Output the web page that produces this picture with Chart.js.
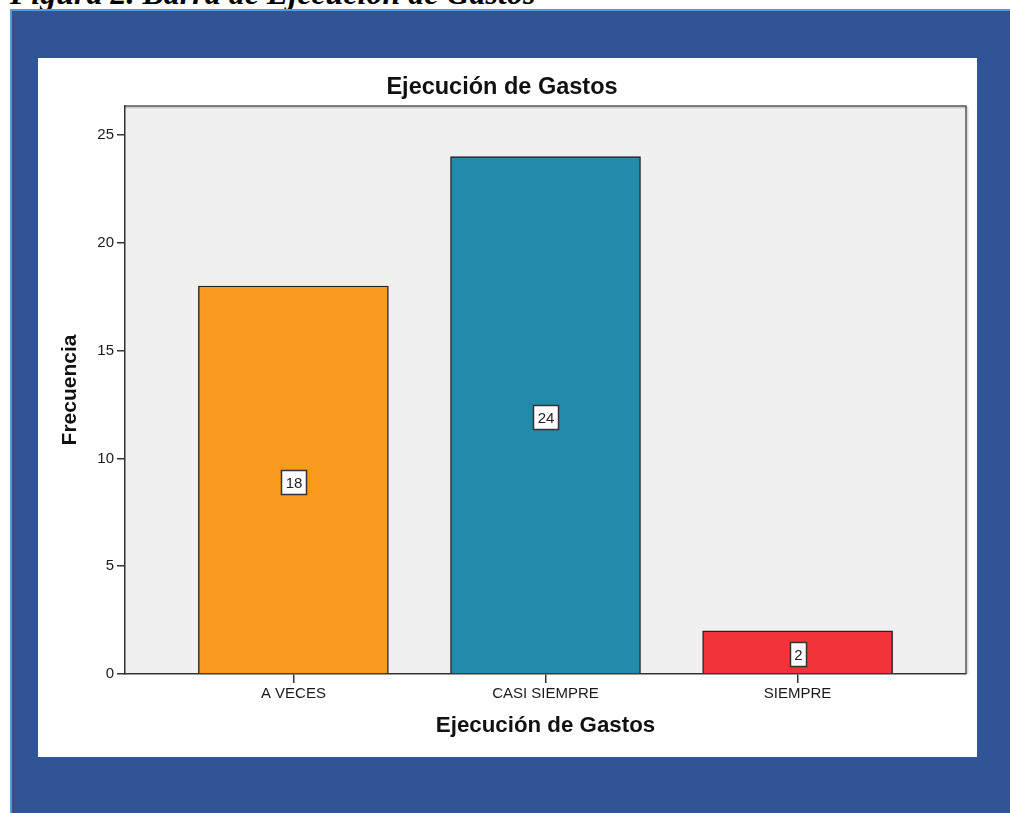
<!DOCTYPE html>
<html>
<head>
<meta charset="utf-8">
<title>Ejecución de Gastos</title>
<script src="https://cdn.jsdelivr.net/npm/chart.js@4.4.1/dist/chart.umd.min.js"></script>
<style>
  html, body { margin: 0; padding: 0; background: #fff; width: 1010px; height: 813px; overflow: hidden; position: relative; }
  #caption { position: absolute; left: 10px; top: -23px; font: italic bold 32px "Liberation Serif", "Times New Roman", serif; line-height: 32px; color: #000; white-space: nowrap; }
  #frame { position: absolute; left: 10px; top: 9px; width: 998px; height: 802px; background: #2F5597; border-left: 2px solid #5B9BD5; border-top: 2px solid #5B9BD5; }
  #panel { position: absolute; left: 38px; top: 58px; width: 939px; height: 699px; background: #fff; }
  canvas { display: block; }
</style>
</head>
<body>
<div id="caption">Figura 2. Barra de Ejecución de Gastos</div>
<div id="frame"></div>
<div id="panel"><canvas id="chart" width="939" height="699"></canvas></div>
<script>
// Frecuencias por categoría
const categories = ['A VECES', 'CASI SIEMPRE', 'SIEMPRE'];
const frecuencias = [18, 24, 2];
const barColors = ['#F9991E', '#238AAB', '#F2333A'];
const yTicks = [0, 5, 10, 15, 20, 25];

const FONT = '"Liberation Sans", Arial, Helvetica, sans-serif';
Chart.defaults.font.family = FONT;

// Grey plot background plus the top/right frame lines
const plotFrame = {
  id: 'plotFrame',
  beforeDraw(chart) {
    const { ctx, chartArea: a } = chart;
    ctx.save();
    ctx.fillStyle = '#F0F0F0';
    ctx.fillRect(a.left, a.top, a.right - a.left, a.bottom - a.top);
    ctx.restore();
  },
  afterDraw(chart) {
    const { ctx, chartArea: a } = chart;
    ctx.save();
    ctx.strokeStyle = 'rgba(0,0,0,0.15)';
    ctx.lineWidth = 2;
    ctx.beginPath();
    ctx.moveTo(a.left, a.top + 1.5);
    ctx.lineTo(a.right + 1.5, a.top + 1.5);
    ctx.lineTo(a.right + 1.5, a.bottom);
    ctx.stroke();
    ctx.strokeStyle = '#555';
    ctx.lineWidth = 1.5;
    ctx.beginPath();
    ctx.moveTo(a.left, a.top);
    ctx.lineTo(a.right, a.top);
    ctx.lineTo(a.right, a.bottom);
    ctx.stroke();
    ctx.restore();
  }
};

// Boxed value labels in the middle of each bar
const valueBoxes = {
  id: 'valueBoxes',
  afterDatasetsDraw(chart) {
    const { ctx } = chart;
    const meta = chart.getDatasetMeta(0);
    ctx.save();
    ctx.font = '15px ' + FONT;
    meta.data.forEach((bar, i) => {
      const text = String(frecuencias[i]);
      const cx = bar.x;
      const cy = (bar.y + bar.base) / 2 + 2;
      const w = Math.round(ctx.measureText(text).width + 8);
      const h = 24;
      const x0 = Math.round(cx - w / 2) + 0.5;
      const y0 = Math.round(cy - h / 2) + 0.5;
      ctx.fillStyle = '#fff';
      ctx.fillRect(x0, y0, w, h);
      ctx.strokeStyle = '#333';
      ctx.lineWidth = 1.5;
      ctx.strokeRect(x0, y0, w, h);
      ctx.fillStyle = '#222';
      ctx.textAlign = 'center';
      ctx.textBaseline = 'middle';
      ctx.fillText(text, x0 + w / 2, y0 + h / 2 + 1);
    });
    ctx.restore();
  }
};

new Chart(document.getElementById('chart'), {
  type: 'bar',
  data: {
    datasets: [{
      label: 'Frecuencia',
      data: frecuencias.map((v, i) => ({ x: i, y: v })),
      backgroundColor: barColors,
      borderColor: '#222',
      borderWidth: 1.4,
      barThickness: 190
    }]
  },
  plugins: [plotFrame, valueBoxes],
  options: {
    responsive: false,
    animation: false,
    layout: { padding: { left: 0, right: 11, top: 0, bottom: 0 } },
    plugins: {
      legend: { display: false },
      tooltip: { enabled: false },
      title: {
        display: true,
        text: 'Ejecución de Gastos',
        color: '#111',
        font: { size: 23.5, weight: 'bold' },
        padding: { top: 15.9, bottom: 3.9 }
      }
    },
    scales: {
      x: {
        type: 'linear',
        offset: false,
        min: -0.668,
        max: 2.668,
        afterBuildTicks: s => { s.ticks = categories.map((c, i) => ({ value: i })); },
        afterFit: s => { s.height = 83; },
        ticks: {
          callback: v => categories[v],
          color: '#1a1a1a',
          font: { size: 15 },
          padding: 2,
          maxRotation: 0,
          autoSkip: false
        },
        grid: { display: true, offset: false, drawOnChartArea: false, drawTicks: true, tickLength: 9, color: '#333', lineWidth: 1.5 },
        border: { display: true, color: '#333', width: 1.5 },
        title: {
          display: true,
          text: 'Ejecución de Gastos',
          color: '#111',
          font: { size: 22.3, weight: 'bold' },
          padding: { top: 0, bottom: 17.6 }
        }
      },
      y: {
        min: 0,
        max: 26.35,
        afterBuildTicks: s => { s.ticks = yTicks.map(v => ({ value: v })); },
        afterFit: s => { s.width = 87; },
        ticks: { color: '#1a1a1a', font: { size: 15 }, padding: 3 },
        grid: { display: true, drawOnChartArea: false, drawTicks: true, tickLength: 8, color: '#333', lineWidth: 1.5 },
        border: { display: true, color: '#333', width: 1.5 },
        title: {
          display: true,
          text: 'Frecuencia',
          color: '#111',
          font: { size: 21, weight: 'bold' },
          padding: { top: 20, bottom: 0 }
        }
      }
    }
  }
});
</script>
</body>
</html>
